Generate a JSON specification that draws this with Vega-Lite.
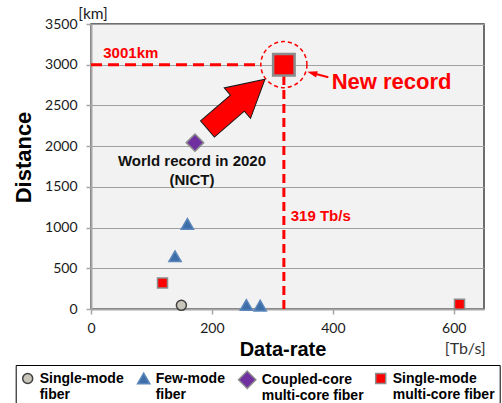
{
  "$schema": "https://vega.github.io/schema/vega-lite/v6.json",
  "width": 393,
  "height": 285,
  "autosize": "none",
  "padding": {"left": 91, "top": 24, "right": 18, "bottom": 94},
  "background": "white",
  "config": {
    "view": {"fill": "#f2f2f2", "stroke": "#404040", "strokeWidth": 1.5}
  },
  "encoding": {
    "x": {
      "field": "rate", "type": "quantitative",
      "scale": {"domain": [0, 650], "nice": false, "zero": true},
      "axis": {
        "title": "Data-rate", "values": [0, 200, 400, 600], "grid": false, "format": "d",
        "domainColor": "#a6a6a6", "domainWidth": 2, "tickColor": "#a6a6a6", "tickWidth": 1.5, "tickSize": 5,
        "labelFont": "Lato", "labelFontSize": 14, "labelColor": "#1a1a1a", "labelPadding": 7, "labelFlush": false,
        "titleFont": "Liberation Sans", "titleFontSize": 20, "titleFontWeight": "bold", "titleColor": "#000000",
        "titleX": 191.5, "titleY": 46, "titleBaseline": "alphabetic"
      }
    },
    "y": {
      "field": "dist", "type": "quantitative",
      "scale": {"domain": [0, 3500], "nice": false, "zero": true},
      "axis": {
        "title": "Distance", "values": [0, 500, 1000, 1500, 2000, 2500, 3000, 3500], "grid": true, "format": "d",
        "gridColor": "#a0a0a0", "gridWidth": 1,
        "domainColor": "#a6a6a6", "domainWidth": 2, "tickColor": "#a6a6a6", "tickWidth": 1.5, "tickSize": 5,
        "labelFont": "Lato", "labelFontSize": 14, "labelColor": "#1a1a1a", "labelPadding": 9,
        "titleFont": "Liberation Sans", "titleFontSize": 22, "titleFontWeight": "bold", "titleColor": "#000000",
        "titleX": -61, "titleY": 133, "titleBaseline": "alphabetic"
      }
    }
  },
  "layer": [
    {
      "data": {"values": [{"rate": 0, "rate2": 274.5, "dist": 3001}]},
      "mark": {"type": "rule", "color": "#ff0000", "strokeWidth": 3, "strokeDash": [11, 6]},
      "encoding": {"x2": {"field": "rate2"}}
    },
    {
      "data": {"values": [{"rate": 319, "dist": 0, "dist2": 3001}]},
      "mark": {"type": "rule", "color": "#ff0000", "strokeWidth": 3, "strokeDash": [9, 5]},
      "encoding": {"y2": {"field": "dist2"}}
    },
    {
      "data": {"values": [{"rate": 319, "dist": 3001}]},
      "mark": {"type": "point", "shape": "circle", "filled": false, "size": 2124, "stroke": "#ff0000", "strokeWidth": 1.5, "strokeDash": [4, 3], "opacity": 1},
      "encoding": {}
    },
    {
      "data": {"values": [
        {"rate": 149.5, "dist": 45, "type": "Single-mode fiber"},
        {"rate": 159.4, "dist": 1046, "type": "Few-mode fiber"},
        {"rate": 139, "dist": 648, "type": "Few-mode fiber"},
        {"rate": 257, "dist": 49, "type": "Few-mode fiber"},
        {"rate": 279.8, "dist": 41, "type": "Few-mode fiber"},
        {"rate": 172, "dist": 2043, "type": "Coupled-core multi-core fiber"},
        {"rate": 118.3, "dist": 319, "type": "Single-mode multi-core fiber"},
        {"rate": 609.5, "dist": 59, "type": "Single-mode multi-core fiber"}
      ]},
      "mark": {"type": "point", "filled": true, "opacity": 1, "strokeWidth": 1.5},
      "encoding": {
        "fill": {
          "field": "type", "type": "nominal",
          "scale": {"domain": ["Single-mode fiber", "Few-mode fiber", "Coupled-core multi-core fiber", "Single-mode multi-core fiber"],
                    "range": ["#c8c6bb", "#3d6ea8", "#7030a0", "#ff0000"]},
          "legend": {
            "title": null, "orient": "none", "legendX": -75.3, "legendY": 341, "direction": "horizontal",
            "padding": 5, "strokeColor": "#000000", "fillColor": "#ffffff",
            "columnPadding": 9, "labelOffset": 5,
            "labelFont": "Liberation Sans", "labelFontSize": 14, "labelFontWeight": "bold", "labelColor": "#000000",
            "labelBaseline": "middle", "labelLimit": 200, "symbolStrokeWidth": 1.5,
            "labelExpr": "datum.label == 'Single-mode fiber' ? ['Single-mode', '\u00a0fiber'] : datum.label == 'Few-mode fiber' ? ['Few-mode', '\u00a0fiber'] : datum.label == 'Coupled-core multi-core fiber' ? ['Coupled-core', 'multi-core fiber'] : ['Single-mode', 'multi-core fiber']"
          }
        },
        "stroke": {
          "field": "type", "type": "nominal",
          "scale": {"domain": ["Single-mode fiber", "Few-mode fiber", "Coupled-core multi-core fiber", "Single-mode multi-core fiber"],
                    "range": ["#404040", "#5b86bb", "#8c8c8c", "#8c8c8c"]}
        },
        "shape": {
          "field": "type", "type": "nominal",
          "scale": {"domain": ["Single-mode fiber", "Few-mode fiber", "Coupled-core multi-core fiber", "Single-mode multi-core fiber"],
                    "range": ["circle", "triangle-up", "diamond", "square"]}
        },
        "size": {
          "field": "type", "type": "nominal",
          "scale": {"type": "ordinal", "domain": ["Single-mode fiber", "Few-mode fiber", "Coupled-core multi-core fiber", "Single-mode multi-core fiber"],
                    "range": [100, 150, 300, 100]}
        }
      }
    },
    {
      "data": {"values": [{"rate": 319, "dist": 3001, "type": "Single-mode multi-core fiber"}]},
      "mark": {"type": "point", "shape": "square", "filled": true, "size": 462, "fill": "#ff0000", "stroke": "#8c8c8c", "strokeWidth": 2.5, "opacity": 1},
      "encoding": {}
    },
    {
      "data": {"values": [{"rate": 240.2, "dist": 2516}]},
      "mark": {"type": "point", "shape": "M-1,-0.28L0.04,-0.28L0.04,-0.53L1,0L0.04,0.53L0.04,0.28L-1,0.28Z", "filled": true, "size": 5776, "angle": 319.2, "fill": "#ff0000", "stroke": "#1a1a1a", "strokeWidth": 1, "opacity": 1},
      "encoding": {}
    },
    {
      "data": {"values": [{"rate": 392.5, "dist": 2845, "rate2": 365.7, "dist2": 2898}]},
      "mark": {"type": "rule", "color": "#ff0000", "strokeWidth": 2},
      "encoding": {"x2": {"field": "rate2"}, "y2": {"field": "dist2"}}
    },
    {
      "data": {"values": [{"rate": 365.7, "dist": 2898}]},
      "mark": {"type": "point", "shape": "M-1,0L1,-0.65L1,0.65Z", "filled": true, "size": 100, "angle": 15, "fill": "#ff0000", "strokeWidth": 0, "opacity": 1},
      "encoding": {}
    },
    {
      "data": {"values": [{"rate": 20.3, "dist": 3140, "label": "3001km"}, {"rate": 330.3, "dist": 1142, "label": "319 Tb/s"}]},
      "mark": {"type": "text", "align": "left", "baseline": "middle", "font": "Liberation Sans", "fontSize": 15, "fontWeight": "bold", "color": "#ff0000"},
      "encoding": {"text": {"field": "label"}}
    },
    {
      "data": {"values": [{"rate": 398, "dist": 2791, "label": "New record"}]},
      "mark": {"type": "text", "align": "left", "baseline": "middle", "font": "Liberation Sans", "fontSize": 22, "fontWeight": "bold", "color": "#ff0000"},
      "encoding": {"text": {"field": "label"}}
    },
    {
      "data": {"values": [{"rate": 167, "dist": 1817, "label": "World record in 2020"}, {"rate": 167, "dist": 1584, "label": "(NICT)"}]},
      "mark": {"type": "text", "align": "center", "baseline": "middle", "font": "Liberation Sans", "fontSize": 15, "fontWeight": "bold", "color": "#111111"},
      "encoding": {"text": {"field": "label"}}
    },
    {
      "data": {"values": [{"rate": 0, "dist": 3500, "label": "[km]"}]},
      "mark": {"type": "text", "align": "center", "baseline": "middle", "dx": 2, "dy": -10, "font": "Lato", "fontSize": 15.5, "color": "#1a1a1a"},
      "encoding": {"text": {"field": "label"}}
    },
    {
      "data": {"values": [{"rate": 619, "dist": 0, "label": "[Tb/s]"}]},
      "mark": {"type": "text", "align": "center", "baseline": "middle", "dy": 40, "font": "Lato", "fontSize": 16, "color": "#333333"},
      "encoding": {"text": {"field": "label"}}
    }
  ]
}
